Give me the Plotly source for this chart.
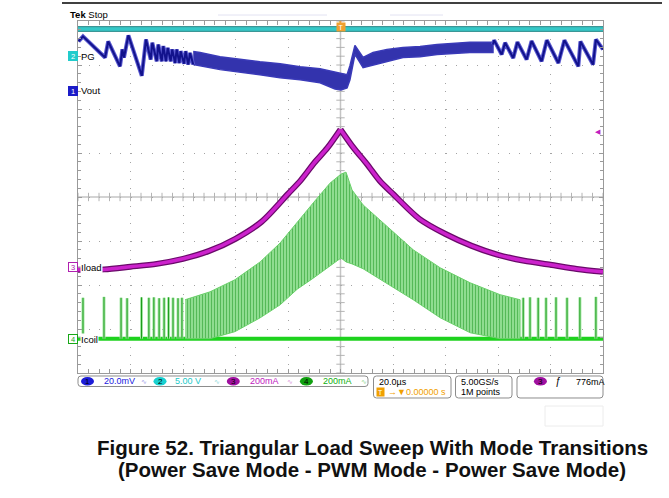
import numpy as np
import plotly.graph_objects as go

# ---------------- data (time in µs, trigger at 0; 20 µs/div) ----------------
# Channel vertical settings: scale per division and ground-marker offset (div)
CH1_SCALE, CH1_OFF = 20.0, 2.41    # Vout  mV/div
CH2_SCALE, CH2_OFF = 5.0, 3.18     # PG    V/div
CH3_SCALE, CH3_OFF = 200.0, -1.61  # Iload mA/div
CH4_SCALE, CH4_OFF = 200.0, -3.22  # Icoil mA/div

pg_t = [-100, 100]
pg_v = [3.2, 3.2]

vout_left_t = [-99.8, -98.1, -89.7, -88.5, -84.0, -83.1, -82.5, -80.8, -75.7, -74.1,
               -72.3, -71.7, -70.0, -69.4, -68.1, -67.5, -66.5, -65.8, -64.7, -64.1,
               -63.0, -62.4, -61.4, -60.9, -59.6, -59.0, -58.0, -57.3, -56.1]
vout_left_mv = [22.5, 24.8, 15.2, 22.5, 11.2, 18.9, 15.2, 25.3, 6.9, 23.4,
                14.3, 21.9, 13.5, 21.1, 13.5, 20.4, 13.5, 19.6, 13.5, 18.9,
                12.7, 18.9, 12.7, 18.1, 12.4, 18.1, 12.0, 17.3, 12.0]

vout_band_t = [-56.1, -53.5, -45.9, -38.3, -30.7, -23.0, -15.4, -7.8, -2.1, 0.2,
               2.5, 3.6, 5.5, 8.6, 12.4, 17.7, 23.8, 30.3, 36.8, 49.3, 58.1]
vout_band_hi = [17.9, 17.5, 15.6, 14.3, 13.3, 12.4, 11.0, 10.1, 8.7, 7.8,
                7.4, 11.5, 20.7, 15.2, 17.5, 18.9, 19.8, 20.2, 21.1, 22.1, 22.1]
vout_band_lo = [12.0, 11.5, 9.7, 8.7, 7.4, 6.0, 5.1, 3.7, 0.9, 0.5,
                1.4, 5.1, 16.6, 10.6, 12.0, 13.3, 15.2, 15.6, 16.6, 17.5, 17.5]

vout_right_t = [58.1, 58.5, 61.4, 62.7, 65.8, 67.4, 70.9, 72.8, 76.6, 78.6,
                83.0, 85.3, 90.6, 91.4, 96.2, 97.3, 100.0]
vout_right_mv = [21.1, 23.1, 16.6, 21.9, 15.0, 22.2, 14.3, 22.7, 13.5, 23.1,
                 12.7, 23.1, 11.2, 22.5, 12.0, 23.4, 18.9]

iload_t = [-100, -90, -80, -70, -60, -50, -40, -30, -20, -15, -10, -5, 0,
           5, 10, 15, 20, 30, 40, 50, 60, 70, 80, 90, 100]
iload_ma = [-9, -7, 5, 18, 41, 77, 132, 210, 336, 400, 477, 545, 629,
            545, 473, 395, 336, 223, 154, 100, 59, 32, 14, -5, -18]

icoil_env_t = [-59.2, -49.7, -40.2, -30.6, -23.0, -16.5, -10.4, -4.0, 0.2, 2.1,
               4.4, 8.6, 15.1, 27.7, 38.0, 49.4, 60.8, 68.4]
icoil_hi = [177, 213, 268, 349, 435, 531, 617, 707, 748, 757,
            676, 608, 540, 404, 322, 254, 200, 177]
icoil_lo = [0, 0, 32, 95, 154, 225, 275, 330, 367, 349,
            340, 318, 268, 177, 95, 27, 0, 0]

pulse_t = [-98.1, -90.1, -83.6, -81.3, -75.8, -73.0, -71.1, -69.1, -67.2, -65.5,
           -63.8, -61.9, -60.4, 69.6, 72.2, 75.3, 78.3, 82.1, 86.3, 91.2, 97.3]
pulse_ma = [186, 190, 186, 184, 188, 186, 188, 184, 186, 188,
            186, 184, 186, 186, 188, 186, 186, 188, 186, 188, 190]

# ---------------- geometry helpers (layout only) ----------------
W, H = 669, 498
L, R, T, B = 78, 603, 21, 373


def px(x):
    return (x - L) / (R - L)


def py(y):
    return (B - y) / (B - T)


def rrect(x0, y0, x1, y1, r=3):
    pts = [("M", x0 + r, y0), ("L", x1 - r, y0), ("Q", x1, y0, x1, y0 + r),
           ("L", x1, y1 - r), ("Q", x1, y1, x1 - r, y1), ("L", x0 + r, y1),
           ("Q", x0, y1, x0, y1 - r), ("L", x0, y0 + r), ("Q", x0, y0, x0 + r, y0)]
    s = ""
    for p in pts:
        if p[0] == "Q":
            s += f"Q{px(p[1]):.5f},{py(p[2]):.5f} {px(p[3]):.5f},{py(p[4]):.5f} "
        else:
            s += f"{p[0]}{px(p[1]):.5f},{py(p[2]):.5f} "
    return s + "Z"


def rng(scale, off):
    return [(-4 - off) * scale, (4 - off) * scale]


fig = go.Figure()

# centre-line graticule ticks
cx = np.arange(-100, 100.01, 4)
cy = np.arange(-4, 4.001, 0.2)
fig.add_trace(go.Scatter(x=cx, y=[0] * len(cx), mode="markers",
                         marker=dict(symbol="line-ns", size=6, line=dict(color="#b4b4b4", width=1))))
fig.add_trace(go.Scatter(x=[0] * len(cy), y=cy, mode="markers",
                         marker=dict(symbol="line-ew", size=6, line=dict(color="#b4b4b4", width=1))))

# PG (ch2)
fig.add_trace(go.Scatter(x=pg_t, y=pg_v, mode="lines", yaxis="y3",
                         line=dict(color="#3c9696", width=6)))
fig.add_trace(go.Scatter(x=pg_t, y=pg_v, mode="lines", yaxis="y3",
                         line=dict(color="#34c8c8", width=3.5)))

# Icoil (ch4)
base_t = [-100, 100]
fig.add_trace(go.Scatter(x=base_t, y=[0, 0], mode="lines", yaxis="y5",
                         line=dict(color="#1ed21e", width=4)))
px_l, py_l = [], []
for t, p in zip(pulse_t, pulse_ma):
    px_l += [t, t, None]
    py_l += [0, p, None]
fig.add_trace(go.Scatter(x=px_l, y=py_l, mode="lines", yaxis="y5",
                         line=dict(color="#a4e8a4", width=3)))
fig.add_trace(go.Scatter(x=px_l, y=py_l, mode="lines", yaxis="y5",
                         line=dict(color="#1a9a1a", width=1)))
band_x = icoil_env_t + icoil_env_t[::-1]
band_y = icoil_hi + icoil_lo[::-1]
fig.add_trace(go.Scatter(x=band_x, y=band_y, mode="lines", fill="toself", yaxis="y5",
                         fillcolor="#8cdc8c",
                         fillpattern=dict(shape="|", fgcolor="#14921a", bgcolor="#96e096",
                                          size=3, solidity=0.4),
                         line=dict(color="#6ad06a", width=1)))

# Iload (ch3) – drawn as two smooth branches meeting at the peak
k = int(np.argmax(iload_ma))
for seg in (slice(0, k + 1), slice(k, None)):
    fig.add_trace(go.Scatter(x=iload_t[seg], y=iload_ma[seg], mode="lines", yaxis="y4",
                             line=dict(color="#6a0a6a", width=6, shape="spline", smoothing=0.8)))
for seg in (slice(0, k + 1), slice(k, None)):
    fig.add_trace(go.Scatter(x=iload_t[seg], y=iload_ma[seg], mode="lines", yaxis="y4",
                             line=dict(color="#cc22cc", width=3.5, shape="spline", smoothing=0.8)))

# Vout (ch1)
vb_x = vout_band_t + vout_band_t[::-1]
vb_y = vout_band_hi + vout_band_lo[::-1]
fig.add_trace(go.Scatter(x=vb_x, y=vb_y, mode="lines", fill="toself", yaxis="y2",
                         fillcolor="#2a2aa8",
                         fillpattern=dict(shape="|", fgcolor="#0c0c74", bgcolor="#4040c0",
                                          size=2, solidity=0.5),
                         line=dict(color="#3a3ab8", width=1.5)))
for tt, vv in ((vout_left_t, vout_left_mv), (vout_right_t, vout_right_mv)):
    fig.add_trace(go.Scatter(x=tt, y=vv, mode="lines", yaxis="y2",
                             line=dict(color="#5a5ad0", width=4)))
    fig.add_trace(go.Scatter(x=tt, y=vv, mode="lines", yaxis="y2",
                             line=dict(color="#12128c", width=2)))

for tr in fig.data:
    tr.hoverinfo = "skip"

FONT = "Liberation Sans, Arial, sans-serif"
shapes = []
ann = []

# centre cross lines
shapes.append(dict(type="line", xref="paper", yref="paper", x0=0, x1=1, y0=0.5, y1=0.5,
                   line=dict(color="#c4c4c4", width=1.5), layer="below"))
shapes.append(dict(type="line", xref="paper", yref="paper", x0=0.5, x1=0.5, y0=0, y1=1,
                   line=dict(color="#c4c4c4", width=1.5), layer="below"))

# top black rule & faint readout remnants
shapes.append(dict(type="line", xref="paper", yref="paper", x0=px(62), x1=px(662), y0=py(3), y1=py(3),
                   line=dict(color="#000000", width=1.5)))
for a, b in ((218, 327), (390, 443)):
    shapes.append(dict(type="line", xref="paper", yref="paper", x0=px(a), x1=px(b), y0=py(15), y1=py(15),
                       line=dict(color="#e2e2f2", width=1)))
shapes.append(dict(type="rect", xref="paper", yref="paper", x0=px(545), x1=px(603), y0=py(406), y1=py(426),
                   line=dict(color="#ececec", width=1)))

# status bar boxes
for (x0, y0, x1, y1) in ((78, 376, 368, 386.5), (373.5, 376, 451, 398), (455.5, 376, 512, 398), (517, 376, 603, 398)):
    shapes.append(dict(type="path", xref="paper", yref="paper", path=rrect(x0, y0, x1, y1),
                       line=dict(color="#8c8c8c", width=1)))

# channel ellipses in status bar
ell = [(87.5, "#1c1cd8", "1"), (160, "#18d0d0", "2"), (233.3, "#a010a0", "3"), (306.4, "#10a010", "4"),
       (540.4, "#a010a0", "3")]
for cxp, col, lab in ell:
    shapes.append(dict(type="circle", xref="paper", yref="paper", x0=px(cxp - 6.5), x1=px(cxp + 6.5),
                       y0=py(385.5), y1=py(377), fillcolor=col, line=dict(color=col, width=0)))
    ann.append(dict(x=px(cxp), y=py(381.3), text=lab, font=dict(family=FONT, size=8, color="#000000")))


def txt(x, y, s, col="#000000", size=9, anchor="left", bold=False):
    ann.append(dict(x=px(x), y=py(y), text=(f"<b>{s}</b>" if bold else s), xanchor=anchor,
                    font=dict(family=FONT, size=size, color=col)))


txt(102, 381.3, "20.0mV", "#2020e0")
txt(144, 381.3, "∿", "#9a9ae8", 7, "center")
txt(173, 381.3, "5.00 V", "#20c8c8")
txt(217, 381.3, "∿", "#8ad8d8", 7, "center")
txt(248, 381.3, "200mA", "#c020c0")
txt(290, 381.3, "∿", "#d890d8", 7, "center")
txt(321, 381.3, "200mA", "#10b010")
txt(363.5, 381.3, "∿", "#90d890", 7, "center")
txt(377, 381.5, "20.0µs")
txt(386, 391.8, "→▼0.00000 s", "#f0a000")
ann.append(dict(x=px(380.5), y=py(391.8), text="T", bgcolor="#f0a000", borderpad=0, width=7, height=8,
                font=dict(family=FONT, size=7, color="#ffffff")))
txt(459, 381.5, "5.00GS/s")
txt(459, 391.8, "1M points")
txt(558, 381.5, "<i>ƒ</i>", "#000000", 10, "center")
txt(574, 381.5, "776mA")

# top-left Tek Stop
ann.append(dict(x=px(67.5), y=py(15), text="<b>Tek</b> Stop", xanchor="left",
                font=dict(family=FONT, size=9.5, color="#000000")))

# channel ground markers and labels
marks = [(56, "2", "#22cccc", True, "PG", False), (90.7, "1", "#1c1cc8", True, "Vout", False),
         (267, "3", "#b020b0", False, "Iload", True), (339, "4", "#18a818", False, "Icoil", True)]
for yv, n, col, filled, lab, wbg in marks:
    ann.append(dict(x=px(72.5), y=py(yv), text=n, width=8, height=8, borderpad=0,
                    bgcolor=(col if filled else "#ffffff"), bordercolor=col, borderwidth=1,
                    font=dict(family=FONT, size=7.5, color=("#ffffff" if filled else col))))
    ann.append(dict(x=px(79.5), y=py(yv), text=lab, xanchor="left", borderpad=0,
                    bgcolor=("#ffffff" if wbg else "rgba(0,0,0,0)"),
                    font=dict(family=FONT, size=9.5, color="#000000")))

# trigger position marker
ann.append(dict(x=0.5, y=py(27.5), text="T", width=8, height=8, borderpad=0, bgcolor="#f0a030",
                font=dict(family=FONT, size=7, color="#ffffff")))
ann.append(dict(x=0.5, y=py(21.5), text="▼", font=dict(family=FONT, size=5, color="#f0a030")))
# trigger level marker
ann.append(dict(x=px(603), y=py(131), text="◀", xanchor="right",
                font=dict(family=FONT, size=7, color="#c020c0")))

# caption (two lines)
ann.append(dict(x=px(372.5), y=py(447), text="<b>Figure 52. Triangular Load Sweep With Mode Transitions</b>",
                font=dict(family=FONT, size=20.5, color="#111111")))
ann.append(dict(x=px(372), y=py(469.5), text="<b>(Power Save Mode - PWM Mode - Power Save Mode)</b>",
                font=dict(family=FONT, size=20.5, color="#111111")))

for a in ann:
    a.setdefault("xref", "paper")
    a.setdefault("yref", "paper")
    a.setdefault("showarrow", False)
    a.setdefault("xanchor", "center")
    a.setdefault("yanchor", "middle")

fig.update_layout(
    width=W, height=H,
    margin=dict(l=L, r=W - R, t=T, b=H - B),
    paper_bgcolor="white", plot_bgcolor="white",
    showlegend=False,
    shapes=shapes, annotations=ann,
    xaxis=dict(range=[-100, 100], tick0=-100, dtick=20, showgrid=True, gridcolor="#a4a4a4", gridwidth=1,
               griddash="1px,7.8px", showticklabels=False, zeroline=False,
               ticks="inside", ticklen=4, tickcolor="#9a9a9a",
               showline=True, linecolor="#9a9a9a", linewidth=1, mirror="allticks",
               minor=dict(tick0=-100, dtick=4, ticks="inside", ticklen=3, tickcolor="#9a9a9a", showgrid=False),
               fixedrange=True),
    yaxis=dict(range=[-4, 4], tick0=-4, dtick=1, showgrid=True, gridcolor="#a4a4a4", gridwidth=1,
               griddash="1px,9.5px", showticklabels=False, zeroline=False,
               ticks="inside", ticklen=4, tickcolor="#9a9a9a",
               showline=True, linecolor="#9a9a9a", linewidth=1, mirror="allticks",
               minor=dict(tick0=-4, dtick=0.2, ticks="inside", ticklen=3, tickcolor="#9a9a9a", showgrid=False),
               fixedrange=True),
    yaxis2=dict(range=rng(CH1_SCALE, CH1_OFF), overlaying="y", visible=False),
    yaxis3=dict(range=rng(CH2_SCALE, CH2_OFF), overlaying="y", visible=False),
    yaxis4=dict(range=rng(CH3_SCALE, CH3_OFF), overlaying="y", visible=False),
    yaxis5=dict(range=rng(CH4_SCALE, CH4_OFF), overlaying="y", visible=False),
)

fig.write_html("out.html", config={"displayModeBar": False},
               post_script="document.body.style.margin='0px';document.body.style.overflow='hidden';")
